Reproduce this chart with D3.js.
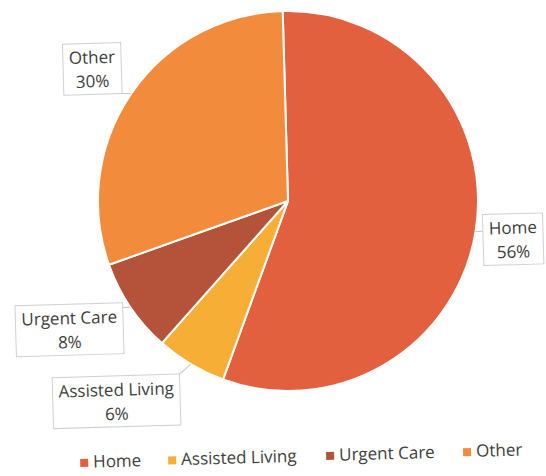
<!DOCTYPE html>
<html>
<head>
<meta charset="utf-8">
<script src="https://cdn.jsdelivr.net/npm/d3@7/dist/d3.min.js"></script>
<style>
  html, body { margin: 0; padding: 0; background: #fff; }
  svg { display: block; }
  text { font-family: "Open Sans", Lato, sans-serif; }
</style>
</head>
<body>
<svg id="chart" width="546" height="476"></svg>
<script>
const categories = ["Home", "Assisted Living", "Urgent Care", "Other"];
const values = [56, 6, 8, 30];
const percentLabels = ["56%", "6%", "8%", "30%"];
const colors = ["#E2603E", "#F6AE37", "#B4533A", "#F28B3C"];

const W = 546, H = 476;
const cx = 288, cy = 201, R = 190;
const tilt = -1.6;

const svg = d3.select("#chart");
const g = svg.append("g").attr("transform", `rotate(${tilt},${cx},${cy})`);
const pieG = g.append("g").attr("transform", `translate(${cx},${cy})`);

const data = categories.map((c, i) => ({ name: c, value: values[i], label: percentLabels[i], color: colors[i] }));
const pie = d3.pie().value(d => d.value).sort(null);
const arc = d3.arc().innerRadius(0).outerRadius(R);
const arcs = pie(data);

pieG.selectAll("path.slice").data(arcs).join("path")
  .attr("class", "slice")
  .attr("d", arc)
  .attr("fill", d => d.data.color)
  .attr("stroke", "#fff")
  .attr("stroke-width", 2)
  .attr("stroke-linejoin", "round");

// label layout (center of label box, relative to pie center, unrotated)
const labelPos = {
  "Home": [224, 45],
  "Assisted Living": [-177, 196],
  "Urgent Care": [-222, 123],
  "Other": [-192, -137]
};

const labG = pieG.append("g");
arcs.forEach(a => {
  const [lx, ly] = labelPos[a.data.name];
  const grp = labG.append("g");
  const t = grp.append("text")
    .attr("text-anchor", "middle")
    .attr("fill", "#404040")
    .attr("font-size", 17);
  t.append("tspan").attr("x", lx).attr("y", ly - 6).text(a.data.name);
  t.append("tspan").attr("x", lx).attr("y", ly + 18).text(a.data.label);
  const bb = t.node().getBBox();
  const padX = 6, padY = 2;
  const bx = bb.x - padX, by = bb.y - padY, bw = bb.width + 2 * padX, bh = bb.height + 2 * padY;
  const mid = (a.startAngle + a.endAngle) / 2;
  const ex = Math.sin(mid) * R, ey = -Math.cos(mid) * R;
  const px = Math.max(bx, Math.min(ex, bx + bw));
  const py = Math.max(by, Math.min(ey, by + bh));
  grp.insert("line", "text")
    .attr("x1", px).attr("y1", py)
    .attr("x2", ex).attr("y2", ey)
    .attr("stroke", "#c4c4c4").attr("stroke-width", 1);
  grp.insert("rect", "text")
    .attr("x", bx).attr("y", by).attr("width", bw).attr("height", bh)
    .attr("fill", "#fff").attr("stroke", "#d0d0d0").attr("stroke-width", 1);
});

// legend
const legendX = [73, 161, 319, 456];
const legendY = 462;
const leg = g.append("g");
data.forEach((d, i) => {
  leg.append("rect")
    .attr("x", legendX[i]).attr("y", legendY - 9)
    .attr("width", 8).attr("height", 8)
    .attr("fill", d.color);
  leg.append("text")
    .attr("x", legendX[i] + 13).attr("y", legendY)
    .attr("fill", "#404040")
    .attr("font-size", 17)
    .text(d.name);
});
</script>
</body>
</html>
